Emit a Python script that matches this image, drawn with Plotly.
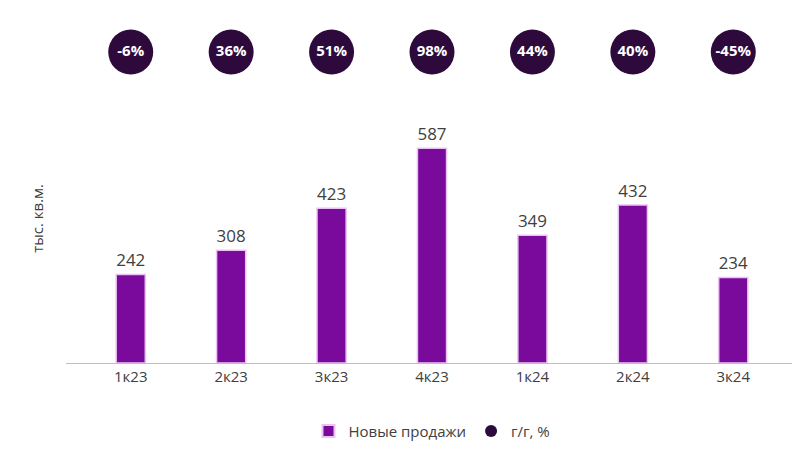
import plotly.graph_objects as go

quarters = ["1к23", "2к23", "3к23", "4к23", "1к24", "2к24", "3к24"]
sales = [242, 308, 423, 587, 349, 432, 234]
yoy = ["-6%", "36%", "51%", "98%", "44%", "40%", "-45%"]

FONT = "Open Sans, Liberation Sans, Arial"

fig = go.Figure()
fig.add_trace(go.Bar(
    x=quarters, y=sales, name="Новые продажи",
    marker=dict(color="#7A0A9C", line=dict(color="#EBC3F2", width=1.5)),
    width=0.29,
    text=sales, textposition="outside",
    textfont=dict(size=17, color="#404040"), cliponaxis=False,
))
fig.add_trace(go.Scatter(
    x=quarters, y=[850] * len(quarters), name="г/г, %",
    mode="markers+text", text=yoy, textposition="middle center",
    texttemplate="<b>%{text}</b>",
    marker=dict(size=45, color="#2D0A3B"),
    textfont=dict(size=15, color="white", family=FONT),
    cliponaxis=False,
))

fig.update_layout(
    width=800, height=458,
    margin=dict(l=58, r=10, t=10, b=103),
    plot_bgcolor="white", paper_bgcolor="white",
    font=dict(family=FONT, color="#595959"),
    showlegend=True,
    legend=dict(orientation="h", x=0.5, xanchor="center", y=-0.15, yanchor="top",
                font=dict(size=15, color="#404040"), itemsizing="constant"),
    xaxis=dict(showline=True, linecolor="#BFBFBF", linewidth=1, automargin=False,
               tickfont=dict(size=15, color="#404040"), ticks=""),
    yaxis=dict(range=[0, 943], showticklabels=False, showgrid=False, zeroline=False,
               automargin=False),
    annotations=[dict(text="тыс. кв.м.", xref="paper", yref="paper", x=-0.04, y=0.42,
                      textangle=-90, showarrow=False, xanchor="center",
                      font=dict(size=15, color="#404040"))],
)
fig.write_html("out.html")
